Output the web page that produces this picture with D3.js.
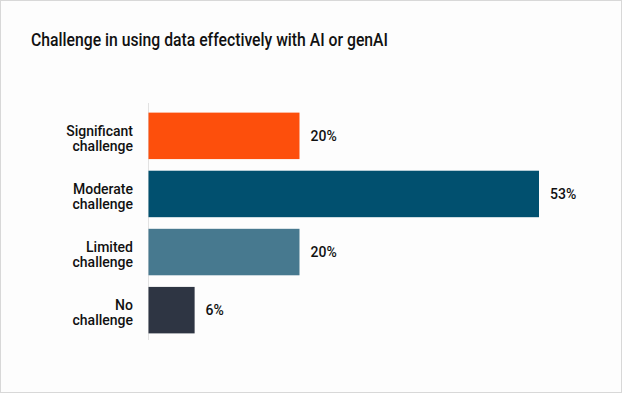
<!DOCTYPE html>
<html>
<head>
<meta charset="utf-8">
<script src="https://cdn.jsdelivr.net/npm/d3@7"></script>
<style>
  body { margin: 0; background: #fff; }
  svg { display: block; font-family: Roboto, "Noto Sans", sans-serif; }
</style>
</head>
<body>
<div id="chart"></div>
<script>
const width = 622;
const height = 393;

const title = "Challenge in using data effectively with AI or genAI";
const categories = [["Significant", "challenge"], ["Moderate", "challenge"], ["Limited", "challenge"], ["No", "challenge"]];
const values = [20.3, 52.5, 20.3, 6.2];
const colors = ["#fd4f0c", "#01506f", "#47798f", "#2e3543"];

const data = values.map((v, i) => ({ key: categories[i].join(" "), lines: categories[i], value: v, color: colors[i] }));

const svg = d3.select("#chart").append("svg")
    .attr("width", width)
    .attr("height", height);

// card frame
svg.append("rect")
    .attr("x", 0.5).attr("y", 0.5)
    .attr("width", width - 1).attr("height", height - 1)
    .attr("fill", "#fdfdfd")
    .attr("stroke", "#d8d8d8");

// title is a bit condensed in the original
svg.append("text")
    .attr("x", 31)
    .attr("y", 46)
    .attr("font-size", 18.5)
    .attr("font-weight", 500)
    .attr("fill", "#111")
    .attr("textLength", 357)
    .attr("lengthAdjust", "spacingAndGlyphs")
    .text(title);

const x = d3.scaleLinear()
    .domain([0, 52.5])
    .range([148.5, 539]);

const y = d3.scaleBand()
    .domain(data.map(d => d.key))
    .range([101, 345])
    .padding(0.2);

// baseline
svg.append("line")
    .attr("x1", x(0)).attr("x2", x(0))
    .attr("y1", 103).attr("y2", 340)
    .attr("stroke", "#e2e2e2")
    .attr("stroke-width", 1);

svg.append("g")
  .selectAll("rect")
  .data(data)
  .join("rect")
    .attr("x", x(0))
    .attr("y", d => y(d.key))
    .attr("width", d => x(d.value) - x(0))
    .attr("height", y.bandwidth())
    .attr("fill", d => d.color);

svg.append("g")
    .attr("font-size", 14)
    .attr("font-weight", 500)
    .attr("fill", "#111")
  .selectAll("text")
  .data(data)
  .join("text")
    .attr("x", d => x(d.value) + 11)
    .attr("y", d => y(d.key) + y.bandwidth() / 2)
    .attr("dy", "0.35em")
    .text(d => d3.format(".0f")(d.value) + "%");

const cat = svg.append("g")
    .attr("font-size", 14)
    .attr("font-weight", 500)
    .attr("fill", "#111")
    .attr("text-anchor", "end")
  .selectAll("text")
  .data(data)
  .join("text")
    .attr("x", 133)
    .attr("y", d => y(d.key) + y.bandwidth() / 2);

cat.selectAll("tspan")
  .data(d => d.lines)
  .join("tspan")
    .attr("x", 133)
    .attr("dy", (l, i) => i === 0 ? 0 : 15)
    .text(l => l);
</script>
</body>
</html>
